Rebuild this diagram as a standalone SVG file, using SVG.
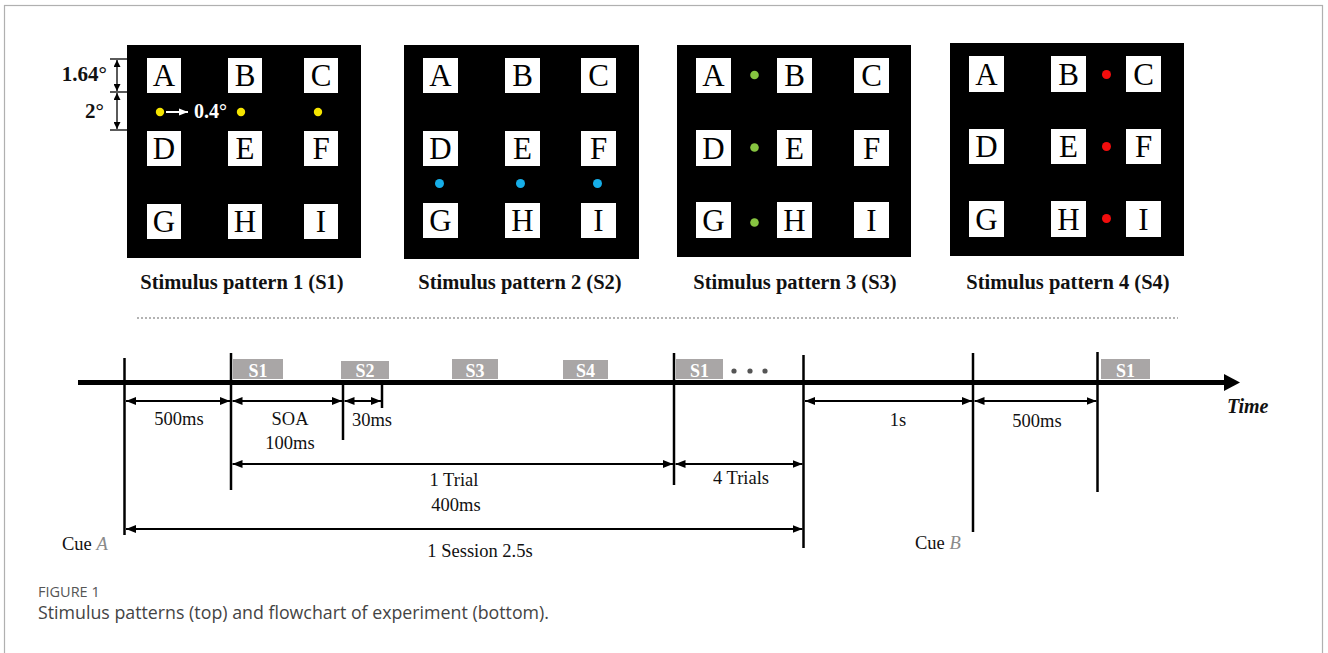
<svg xmlns="http://www.w3.org/2000/svg" width="1328" height="653" viewBox="0 0 1328 653">
  <style>
    .panel { fill: #000; }
    .box { fill: #fff; }
    .let { font-family: "Liberation Serif", "Times New Roman", serif; font-size: 31px; fill: #000; text-anchor: middle; }
    .plabel { font-family: "Liberation Serif", "Times New Roman", serif; font-size: 20.5px; font-weight: bold; fill: #111; text-anchor: middle; }
    .t { font-family: "Liberation Serif", "Times New Roman", serif; font-size: 18.5px; fill: #111; text-anchor: middle; }
    .cue { font-family: "Liberation Serif", "Times New Roman", serif; font-size: 18.5px; fill: #111; text-anchor: start; }
    .deg { font-family: "Liberation Serif", "Times New Roman", serif; font-size: 21px; font-weight: bold; fill: #111; text-anchor: end; }
    .dim { stroke: #000; stroke-width: 2; fill: none; marker-start: url(#ah); marker-end: url(#ah); }
    .vl { stroke: #000; stroke-width: 2.5; }
    .stim { fill: #a9a6a6; }
    .stimt { font-family: "Liberation Serif", "Times New Roman", serif; font-size: 18px; font-weight: bold; fill: #fff; text-anchor: middle; }
    .cap1 { font-family: "Open Sans", "Noto Sans", sans-serif; font-size: 14.5px; fill: #555; }
    .cap2 { font-family: "Open Sans", "Noto Sans", sans-serif; font-size: 17.8px; fill: #444; }
  </style>
  <defs>
    <marker id="ah" viewBox="0 0 10 8" refX="10" refY="4" markerWidth="10" markerHeight="8" markerUnits="userSpaceOnUse" orient="auto-start-reverse">
      <path d="M0,0 L10,4 L0,8 z" fill="#000"/>
    </marker>
    <marker id="ahs" viewBox="0 0 8 8" refX="8" refY="4" markerWidth="7" markerHeight="7" markerUnits="userSpaceOnUse" orient="auto-start-reverse">
      <path d="M0,0 L8,4 L0,8 z" fill="#000"/>
    </marker>
    <marker id="ahw" viewBox="0 0 10 8" refX="10" refY="4" markerWidth="9" markerHeight="8" markerUnits="userSpaceOnUse" orient="auto">
      <path d="M0,0 L10,4 L0,8 z" fill="#fff"/>
    </marker>
  </defs>

  <!-- card frame -->
  <rect x="4.5" y="5.5" width="1318" height="670" fill="#fff" stroke="#b0b0b0" stroke-width="1.2"/>

  <!-- pattern S1 -->
  <g id="pattern-s1">
    <rect class="panel" x="127" y="45" width="234" height="213"/>
    <rect class="box" x="147" y="58" width="34" height="35"/><text class="let" x="164" y="86">A</text>
    <rect class="box" x="228" y="58" width="34" height="35"/><text class="let" x="245" y="86">B</text>
    <rect class="box" x="304" y="58" width="34" height="35"/><text class="let" x="321" y="86">C</text>
    <rect class="box" x="147" y="131" width="34" height="35"/><text class="let" x="164" y="159">D</text>
    <rect class="box" x="228" y="131" width="34" height="35"/><text class="let" x="245" y="159">E</text>
    <rect class="box" x="304" y="131" width="34" height="35"/><text class="let" x="321" y="159">F</text>
    <rect class="box" x="147" y="204" width="34" height="35"/><text class="let" x="164" y="232">G</text>
    <rect class="box" x="228" y="204" width="34" height="35"/><text class="let" x="245" y="232">H</text>
    <rect class="box" x="304" y="204" width="34" height="35"/><text class="let" x="321" y="232">I</text>
    <circle cx="160" cy="112" r="4.2" fill="#f5e400"/>
    <circle cx="241" cy="112" r="4.2" fill="#f5e400"/>
    <circle cx="318" cy="112" r="4.2" fill="#f5e400"/>
    <line x1="166" y1="112" x2="188" y2="112" stroke="#fff" stroke-width="2" marker-end="url(#ahw)"/>
    <text x="194" y="118" font-family="Liberation Serif, serif" font-size="20px" font-weight="bold" fill="#fff">0.4°</text>
    <!-- angular size marks -->
    <line x1="110" y1="59" x2="127" y2="59" stroke="#000" stroke-width="1.3"/>
    <line x1="110" y1="92" x2="127" y2="92" stroke="#000" stroke-width="1.3"/>
    <line x1="110" y1="130" x2="127" y2="130" stroke="#000" stroke-width="1.3"/>
    <line x1="117" y1="60" x2="117" y2="91" stroke="#000" stroke-width="1.3" marker-start="url(#ahs)" marker-end="url(#ahs)"/>
    <line x1="117" y1="93" x2="117" y2="129" stroke="#000" stroke-width="1.3" marker-start="url(#ahs)" marker-end="url(#ahs)"/>
    <text class="deg" x="107" y="81">1.64°</text>
    <text class="deg" x="104" y="118">2°</text>
    <text class="plabel" x="242" y="289">Stimulus pattern 1 (S1)</text>
  </g>

  <!-- pattern S2 -->
  <g id="pattern-s2">
    <rect class="panel" x="404" y="45" width="235" height="214"/>
    <rect class="box" x="423" y="58" width="35" height="35"/><text class="let" x="440.5" y="86">A</text>
    <rect class="box" x="505" y="58" width="35" height="35"/><text class="let" x="522.5" y="86">B</text>
    <rect class="box" x="581" y="58" width="35" height="35"/><text class="let" x="598.5" y="86">C</text>
    <rect class="box" x="423" y="131" width="35" height="35"/><text class="let" x="440.5" y="159">D</text>
    <rect class="box" x="505" y="131" width="35" height="35"/><text class="let" x="522.5" y="159">E</text>
    <rect class="box" x="581" y="131" width="35" height="35"/><text class="let" x="598.5" y="159">F</text>
    <rect class="box" x="423" y="203" width="35" height="35"/><text class="let" x="440.5" y="231">G</text>
    <rect class="box" x="505" y="203" width="35" height="35"/><text class="let" x="522.5" y="231">H</text>
    <rect class="box" x="581" y="203" width="35" height="35"/><text class="let" x="598.5" y="231">I</text>
    <circle cx="439.5" cy="183.5" r="4.5" fill="#16aee8"/>
    <circle cx="520.5" cy="183.5" r="4.5" fill="#16aee8"/>
    <circle cx="597.5" cy="183.5" r="4.5" fill="#16aee8"/>
    <text class="plabel" x="520" y="289">Stimulus pattern 2 (S2)</text>
  </g>

  <!-- pattern S3 -->
  <g id="pattern-s3">
    <rect class="panel" x="677" y="45" width="234" height="212"/>
    <rect class="box" x="696" y="58" width="35" height="35"/><text class="let" x="713.5" y="86">A</text>
    <rect class="box" x="777" y="58" width="35" height="35"/><text class="let" x="794.5" y="86">B</text>
    <rect class="box" x="854" y="58" width="35" height="35"/><text class="let" x="871.5" y="86">C</text>
    <rect class="box" x="696" y="130" width="35" height="36"/><text class="let" x="713.5" y="158.5">D</text>
    <rect class="box" x="777" y="130" width="35" height="36"/><text class="let" x="794.5" y="158.5">E</text>
    <rect class="box" x="854" y="130" width="35" height="36"/><text class="let" x="871.5" y="158.5">F</text>
    <rect class="box" x="696" y="202" width="35" height="36"/><text class="let" x="713.5" y="230.5">G</text>
    <rect class="box" x="777" y="202" width="35" height="36"/><text class="let" x="794.5" y="230.5">H</text>
    <rect class="box" x="854" y="202" width="35" height="36"/><text class="let" x="871.5" y="230.5">I</text>
    <circle cx="754.5" cy="75" r="4.3" fill="#86c440"/>
    <circle cx="754.5" cy="147.5" r="4.3" fill="#86c440"/>
    <circle cx="754.5" cy="222.5" r="4.3" fill="#86c440"/>
    <text class="plabel" x="795" y="289">Stimulus pattern 3 (S3)</text>
  </g>

  <!-- pattern S4 -->
  <g id="pattern-s4">
    <rect class="panel" x="950" y="43" width="234" height="213"/>
    <rect class="box" x="969" y="56" width="35" height="36"/><text class="let" x="986.5" y="84.5">A</text>
    <rect class="box" x="1051" y="56" width="35" height="36"/><text class="let" x="1068.5" y="84.5">B</text>
    <rect class="box" x="1126" y="56" width="35" height="36"/><text class="let" x="1143.5" y="84.5">C</text>
    <rect class="box" x="969" y="129" width="35" height="35"/><text class="let" x="986.5" y="157">D</text>
    <rect class="box" x="1051" y="129" width="35" height="35"/><text class="let" x="1068.5" y="157">E</text>
    <rect class="box" x="1126" y="129" width="35" height="35"/><text class="let" x="1143.5" y="157">F</text>
    <rect class="box" x="969" y="201" width="35" height="36"/><text class="let" x="986.5" y="229.5">G</text>
    <rect class="box" x="1051" y="201" width="35" height="36"/><text class="let" x="1068.5" y="229.5">H</text>
    <rect class="box" x="1126" y="201" width="35" height="36"/><text class="let" x="1143.5" y="229.5">I</text>
    <circle cx="1106.5" cy="74.5" r="4.5" fill="#f20d0d"/>
    <circle cx="1106.5" cy="146.5" r="4.5" fill="#f20d0d"/>
    <circle cx="1106.5" cy="218.5" r="4.5" fill="#f20d0d"/>
    <text class="plabel" x="1068" y="289">Stimulus pattern 4 (S4)</text>
  </g>

  <!-- separator -->
  <line x1="137" y1="318" x2="1178" y2="318" stroke="#9a9a9a" stroke-width="1.6" stroke-dasharray="2 2"/>

  <!-- time axis -->
  <g id="time-axis">
    <line x1="78" y1="382.5" x2="1226" y2="382.5" stroke="#000" stroke-width="5"/>
    <polygon points="1224,374 1240,382.5 1224,391" fill="#000"/>
    <text x="1227" y="413" font-family="Liberation Serif, serif" font-size="20px" font-weight="bold" font-style="italic" fill="#111">Time</text>
  </g>

  <!-- stimulus onsets -->
  <g id="onset-s1"><rect class="stim" x="233" y="359" width="50" height="20"/><text class="stimt" x="258" y="377">S1</text></g>
  <g id="onset-s2"><rect class="stim" x="341" y="361" width="48" height="18"/><text class="stimt" x="365" y="377">S2</text></g>
  <g id="onset-s3"><rect class="stim" x="452" y="359" width="46" height="20"/><text class="stimt" x="475" y="377">S3</text></g>
  <g id="onset-s4"><rect class="stim" x="563" y="360" width="45" height="19"/><text class="stimt" x="585.5" y="377">S4</text></g>
  <g id="onset-s1b"><rect class="stim" x="676" y="359" width="47" height="20"/><text class="stimt" x="699.5" y="377">S1</text></g>
  <g id="ellipsis">
    <circle cx="734" cy="371" r="2.6" fill="#555"/>
    <circle cx="750" cy="371" r="2.6" fill="#555"/>
    <circle cx="765" cy="371" r="2.6" fill="#555"/>
  </g>
  <g id="onset-s1c"><rect class="stim" x="1101" y="359" width="49" height="20"/><text class="stimt" x="1125.5" y="377">S1</text></g>

  <!-- event markers -->
  <g id="markers">
    <line class="vl" x1="124.5" y1="358" x2="124.5" y2="535"/>
    <line class="vl" x1="231" y1="353" x2="231" y2="490"/>
    <line class="vl" x1="343" y1="383" x2="343" y2="440"/>
    <line class="vl" x1="382" y1="383" x2="382" y2="408"/>
    <line class="vl" x1="674" y1="353" x2="674" y2="485"/>
    <line class="vl" x1="803.5" y1="355" x2="803.5" y2="548"/>
    <line class="vl" x1="973" y1="353" x2="973" y2="532"/>
    <line class="vl" x1="1097.5" y1="352" x2="1097.5" y2="492"/>
  </g>

  <!-- interval connectors -->
  <g id="intervals">
    <line class="dim" x1="126" y1="401" x2="230" y2="401"/>
    <line class="dim" x1="232.5" y1="401" x2="342" y2="401"/>
    <line class="dim" x1="344.5" y1="401" x2="381" y2="401"/>
    <line class="dim" x1="232.5" y1="464" x2="673" y2="464"/>
    <line class="dim" x1="675.5" y1="464" x2="802.5" y2="464"/>
    <line class="dim" x1="805" y1="401" x2="972" y2="401"/>
    <line class="dim" x1="974.5" y1="401" x2="1096.5" y2="401"/>
    <line class="dim" x1="126" y1="529" x2="802.5" y2="529"/>
  </g>

  <!-- interval labels -->
  <g id="labels">
    <text class="t" x="179" y="425">500ms</text>
    <text class="t" x="290" y="425">SOA</text>
    <text class="t" x="290" y="449">100ms</text>
    <text class="t" x="372" y="426">30ms</text>
    <text class="t" x="454" y="486">1 Trial</text>
    <text class="t" x="456" y="511">400ms</text>
    <text class="t" x="741" y="484">4 Trials</text>
    <text class="t" x="898" y="426">1s</text>
    <text class="t" x="1037" y="427">500ms</text>
    <text class="t" x="480" y="557">1 Session 2.5s</text>
    <text class="cue" x="62" y="550">Cue <tspan font-style="italic" fill="#8a8a8a">A</tspan></text>
    <text class="cue" x="915" y="549">Cue <tspan font-style="italic" fill="#8a8a8a">B</tspan></text>
  </g>

  <!-- caption -->
  <text class="cap1" x="38" y="597">FIGURE 1</text>
  <text class="cap2" x="38" y="619">Stimulus patterns (top) and flowchart of experiment (bottom).</text>
</svg>
